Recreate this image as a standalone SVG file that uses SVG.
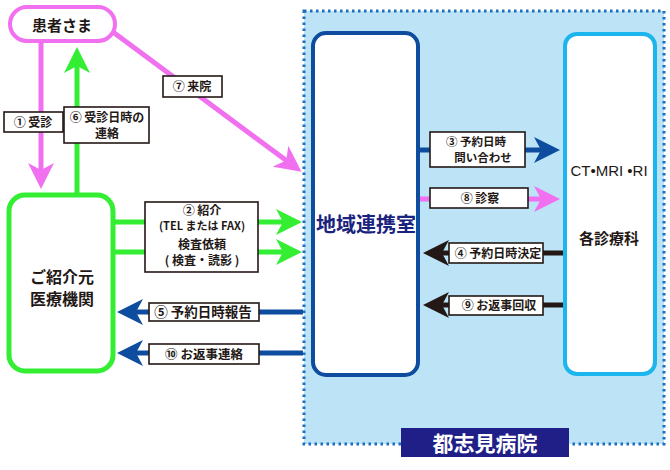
<svg xmlns="http://www.w3.org/2000/svg" width="670" height="470" viewBox="0 0 670 470">
<style>
  text { font-family: "Noto Sans CJK JP", "Liberation Sans", sans-serif; fill: #231815; text-anchor: middle; }
  .lbl { font-size: 12px; font-weight: 700; }
  .lblbox { fill: #ffffff; stroke: #231815; stroke-width: 1.6; }
  .pk { stroke: #f070f0; stroke-width: 5; fill: none; }
  .gr { stroke: #33ee33; stroke-width: 5; fill: none; }
  .bl { stroke: #0d4c9e; stroke-width: 5; fill: none; }
  .bk { stroke: #231815; stroke-width: 5; fill: none; }
</style>
<defs>
  <marker id="mPk" viewBox="0 0 26 26" refX="8" refY="13" markerWidth="26" markerHeight="26" markerUnits="userSpaceOnUse" orient="auto"><path d="M0,0 L26,13 L0,26 L7,13 Z" fill="#f070f0"/></marker>
  <marker id="mGr" viewBox="0 0 26 26" refX="8" refY="13" markerWidth="26" markerHeight="26" markerUnits="userSpaceOnUse" orient="auto"><path d="M0,0 L26,13 L0,26 L7,13 Z" fill="#33ee33"/></marker>
  <marker id="mBl" viewBox="0 0 26 26" refX="8" refY="13" markerWidth="26" markerHeight="26" markerUnits="userSpaceOnUse" orient="auto"><path d="M0,0 L26,13 L0,26 L7,13 Z" fill="#0d4c9e"/></marker>
  <marker id="mBk" viewBox="0 0 26 26" refX="8" refY="13" markerWidth="26" markerHeight="26" markerUnits="userSpaceOnUse" orient="auto"><path d="M0,0 L26,13 L0,26 L7,13 Z" fill="#231815"/></marker>
</defs>
<rect width="670" height="470" fill="#ffffff"/>

<g id="hospital">
  <rect x="304" y="11" width="360" height="433" fill="#bde3f7" stroke="#1a6fc0" stroke-width="3" stroke-dasharray="2.5 3.5"/>
  <rect x="401" y="428" width="168" height="29" fill="#1f1f87"/>
  <text x="485" y="451" style="font-size:21px;font-weight:700;fill:#ffffff">都志見病院</text>
</g>

<g id="renkei">
  <rect x="313" y="33" width="105" height="342" rx="13" fill="#ffffff" stroke="#0d4c9e" stroke-width="4"/>
  <text x="366" y="232" style="font-size:20px;font-weight:700;fill:#1a237e">地域連携室</text>
</g>

<g id="shinryoka">
  <rect x="565" y="34" width="90" height="340" rx="12" fill="#ffffff" stroke="#1cb5ee" stroke-width="4"/>
  <text x="609" y="176" style="font-family:'Liberation Sans','Noto Sans CJK JP',sans-serif;font-size:15px">CT•MRI •RI</text>
  <text x="609" y="244" style="font-size:15px;font-weight:700">各診療科</text>
</g>

<g id="patient">
  <rect x="10" y="7" width="105" height="34" rx="17" fill="#ffffff" stroke="#f070f0" stroke-width="4"/>
  <text x="62" y="31" style="font-size:15px;font-weight:700">患者さま</text>
</g>

<g id="referrer">
  <rect x="9" y="195" width="104" height="176" rx="16" fill="#ffffff" stroke="#33ee33" stroke-width="5"/>
  <text x="62" y="283" style="font-size:16px;font-weight:700">ご紹介元</text>
  <text x="62" y="305" style="font-size:16px;font-weight:700">医療機関</text>
</g>

<g id="connectors">
  <line class="pk" x1="41" y1="43" x2="41" y2="171" marker-end="url(#mPk)"/>
  <line class="gr" x1="77" y1="193" x2="77" y2="65" marker-end="url(#mGr)"/>
  <line class="pk" x1="113" y1="32" x2="287" y2="161" marker-end="url(#mPk)"/>
  <line class="gr" x1="113" y1="222" x2="284" y2="222" marker-end="url(#mGr)"/>
  <line class="gr" x1="113" y1="252" x2="284" y2="252" marker-end="url(#mGr)"/>
  <line class="bl" x1="303" y1="312" x2="135" y2="312" marker-end="url(#mBl)"/>
  <line class="bl" x1="303" y1="353" x2="135" y2="353" marker-end="url(#mBl)"/>
  <line class="bl" x1="420" y1="150" x2="542" y2="150" marker-end="url(#mBl)"/>
  <line class="pk" x1="420" y1="199" x2="542" y2="199" marker-end="url(#mPk)"/>
  <line class="bk" x1="563" y1="253" x2="441" y2="253" marker-end="url(#mBk)"/>
  <line class="bk" x1="563" y1="305" x2="441" y2="305" marker-end="url(#mBk)"/>

  <g id="lbl1"><rect class="lblbox" x="4" y="112" width="59" height="20"/><text class="lbl" x="33" y="127">① 受診</text></g>
  <g id="lbl6"><rect class="lblbox" x="64" y="107" width="85" height="36"/><text class="lbl" x="107" y="122">⑥ 受診日時の<tspan x="107" y="138">連絡</tspan></text></g>
  <g id="lbl7"><rect class="lblbox" x="163" y="76" width="59" height="21"/><text class="lbl" x="192" y="91">⑦ 来院</text></g>
  <g id="lbl2"><rect class="lblbox" x="145" y="202" width="113" height="70"/>
    <text class="lbl" x="202" y="215">② 紹介<tspan x="202" y="230" style="font-size:11px">(TEL または FAX)</tspan><tspan x="202" y="249">検査依頼</tspan><tspan x="202" y="265">( 検査・読影 )</tspan></text></g>
  <g id="lbl5"><rect class="lblbox" x="149" y="303" width="110" height="18"/><text class="lbl" x="203" y="317" style="font-size:13.5px">⑤ 予約日時報告</text></g>
  <g id="lbl10"><rect class="lblbox" x="149" y="344" width="110" height="20"/><text class="lbl" x="204" y="359" style="font-size:12.5px">⑩ お返事連絡</text></g>
  <g id="lbl3"><rect class="lblbox" x="430" y="132" width="95" height="35"/><text class="lbl" x="476" y="146" style="font-size:11.5px">③ 予約日時<tspan x="483" y="162">問い合わせ</tspan></text></g>
  <g id="lbl8"><rect class="lblbox" x="430" y="188" width="98" height="20"/><text class="lbl" x="480" y="203">⑧ 診察</text></g>
  <g id="lbl4"><rect class="lblbox" x="449" y="243" width="94" height="20"/><text class="lbl" x="498" y="258">④ 予約日時決定</text></g>
  <g id="lbl9"><rect class="lblbox" x="449" y="296" width="94" height="19"/><text class="lbl" x="499" y="310">⑨ お返事回収</text></g>
</g>
</svg>
